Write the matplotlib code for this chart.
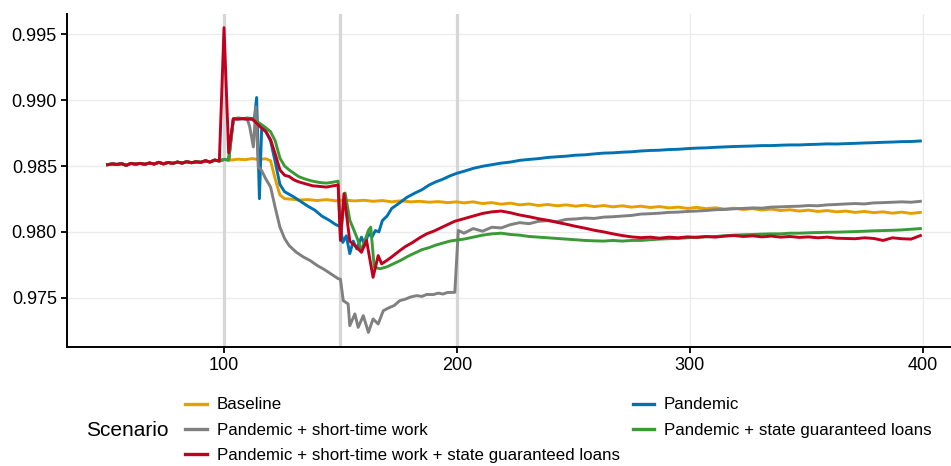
import numpy as np
import matplotlib.pyplot as plt
from matplotlib.lines import Line2D

plt.rcParams['font.family'] = ['Liberation Sans', 'DejaVu Sans']

# shared pre-shock path (all scenarios identical before period 100)
pre_x = np.arange(50, 100, 2)
pre_y = [0.98510, 0.98516, 0.98512, 0.98518, 0.98505, 0.98520, 0.98514, 0.98520,
         0.98513, 0.98523, 0.98515, 0.98528, 0.98516, 0.98527, 0.98520, 0.98530,
         0.98522, 0.98533, 0.98525, 0.98532, 0.98528, 0.98540, 0.98530, 0.98545,
         0.98538]

# common grid for the long tail
tail_x = np.arange(203, 400, 4)

# Baseline
base_hx = [100, 103, 106, 109, 112, 115, 118, 120, 122, 124, 126, 129, 132, 136,
           140, 144, 148, 152, 156, 160, 164, 168, 172, 176, 180, 184, 188, 192,
           196, 200]
base_hy = [0.98550, 0.98545, 0.98552, 0.98548, 0.98556, 0.98550, 0.98555, 0.98540,
           0.98400, 0.98280, 0.98252, 0.98248, 0.98242, 0.98245, 0.98238, 0.98245,
           0.98236, 0.98242, 0.98235, 0.98240, 0.98232, 0.98238, 0.98228, 0.98236,
           0.98228, 0.98232, 0.98225, 0.98230, 0.98222, 0.98228]
base_ty = [0.98220, 0.98228, 0.98215, 0.98222, 0.98210, 0.98218, 0.98205, 0.98212,
           0.98200, 0.98208, 0.98198, 0.98205, 0.98195, 0.98203, 0.98192, 0.98200,
           0.98190, 0.98198, 0.98188, 0.98195, 0.98185, 0.98192, 0.98182, 0.98188,
           0.98178, 0.98186, 0.98176, 0.98183, 0.98173, 0.98180, 0.98170, 0.98176,
           0.98166, 0.98173, 0.98162, 0.98168, 0.98158, 0.98165, 0.98155, 0.98162,
           0.98152, 0.98158, 0.98148, 0.98155, 0.98146, 0.98152, 0.98142, 0.98150,
           0.98140, 0.98148]

# Pandemic
pan_hx = [100, 102, 104, 106, 108, 110, 112, 113, 114, 115.2, 116.2, 118, 120, 122,
          124, 126, 128, 130, 133, 136, 139, 142, 145, 148, 150, 151, 152.5, 154,
          155.5, 157, 159, 160.5, 162, 163.5, 165, 166.5, 168, 170, 172, 175,
          178.5, 182, 185, 188, 191, 194, 197, 200]
pan_hy = [0.98550, 0.98550, 0.98855, 0.98860, 0.98858, 0.98860, 0.98855, 0.98850,
          0.99020, 0.98252, 0.98810, 0.98760, 0.98690, 0.98530, 0.98360, 0.98305,
          0.98285, 0.98265, 0.98230, 0.98195, 0.98165, 0.98120, 0.98090, 0.98055,
          0.98040, 0.97920, 0.97970, 0.97835, 0.97930, 0.97870, 0.97960, 0.97900,
          0.97990, 0.97960, 0.98010, 0.98000, 0.98086, 0.98120, 0.98178, 0.98215,
          0.98262, 0.98295, 0.98320, 0.98355, 0.98380, 0.98400, 0.98425, 0.98445]
pan_ty = [0.98460, 0.98482, 0.98498, 0.98510, 0.98522, 0.98530, 0.98543, 0.98550,
          0.98556, 0.98565, 0.98570, 0.98575, 0.98582, 0.98585, 0.98592, 0.98598,
          0.98600, 0.98605, 0.98608, 0.98614, 0.98618, 0.98620, 0.98625, 0.98627,
          0.98632, 0.98636, 0.98638, 0.98642, 0.98645, 0.98648, 0.98650, 0.98652,
          0.98655, 0.98655, 0.98658, 0.98660, 0.98660, 0.98663, 0.98665, 0.98668,
          0.98667, 0.98670, 0.98672, 0.98675, 0.98677, 0.98680, 0.98682, 0.98685,
          0.98686, 0.98690]

# Pandemic + short-time work
stw_hx = [100, 102, 104, 106, 108, 110, 111, 112.6, 113.7, 114.7, 116, 118, 120,
          121.9, 124, 126, 128, 131, 134, 137, 140, 143, 146, 149, 150, 151.2,
          153.3, 154, 156.2, 157.6, 159.8, 162, 164, 166.2, 168.4, 171.2, 173,
          175.5, 178, 180, 182.7, 185, 187, 189.8, 192, 194, 196, 199.1, 200.6]
stw_hy = [0.98550, 0.98545, 0.98855, 0.98860, 0.98860, 0.98855, 0.98800, 0.98645,
          0.98949, 0.98492, 0.98470, 0.98400, 0.98340, 0.98190, 0.98036, 0.97950,
          0.97895, 0.97846, 0.97810, 0.97782, 0.97745, 0.97715, 0.97680, 0.97645,
          0.97640, 0.97478, 0.97453, 0.97288, 0.97377, 0.97275, 0.97364, 0.97237,
          0.97339, 0.97301, 0.97402, 0.97427, 0.97440, 0.97478, 0.97490, 0.97505,
          0.97516, 0.97510, 0.97525, 0.97524, 0.97535, 0.97528, 0.97540, 0.97541,
          0.98011]
stw_ty = [0.97990, 0.98025, 0.98005, 0.98035, 0.98030, 0.98055, 0.98070, 0.98062,
          0.98080, 0.98085, 0.98078, 0.98095, 0.98098, 0.98105, 0.98102, 0.98112,
          0.98115, 0.98120, 0.98125, 0.98135, 0.98138, 0.98142, 0.98148, 0.98150,
          0.98155, 0.98158, 0.98162, 0.98168, 0.98170, 0.98175, 0.98178, 0.98182,
          0.98180, 0.98188, 0.98190, 0.98193, 0.98195, 0.98200, 0.98198, 0.98205,
          0.98208, 0.98212, 0.98215, 0.98212, 0.98220, 0.98222, 0.98225, 0.98228,
          0.98225, 0.98232]

# Pandemic + state guaranteed loans
sgl_hx = [100, 102, 104, 106, 108, 110, 112, 114, 116, 118, 120, 122, 124, 126, 128,
          130, 132, 135, 138, 141, 144, 147, 149, 150, 152, 154, 157, 159, 162, 163,
          164.5, 167, 170, 173, 176, 179, 182, 185, 188, 191, 194, 197, 200]
sgl_hy = [0.98550, 0.98545, 0.98855, 0.98865, 0.98860, 0.98865, 0.98860, 0.98840,
          0.98815, 0.98790, 0.98760, 0.98690, 0.98560, 0.98500, 0.98470, 0.98445,
          0.98420, 0.98400, 0.98385, 0.98375, 0.98370, 0.98378, 0.98385, 0.97970,
          0.98295, 0.98090, 0.97960, 0.97860, 0.98011, 0.98036, 0.97732, 0.97720,
          0.97735, 0.97760, 0.97785, 0.97815, 0.97840, 0.97865, 0.97880, 0.97900,
          0.97915, 0.97930, 0.97938]
sgl_ty = [0.97945, 0.97960, 0.97975, 0.97985, 0.97990, 0.97980, 0.97975, 0.97965,
          0.97960, 0.97955, 0.97950, 0.97945, 0.97940, 0.97935, 0.97932, 0.97930,
          0.97935, 0.97930, 0.97935, 0.97935, 0.97940, 0.97945, 0.97948, 0.97950,
          0.97955, 0.97960, 0.97962, 0.97965, 0.97970, 0.97975, 0.97978, 0.97980,
          0.97983, 0.97985, 0.97985, 0.97990, 0.97990, 0.97993, 0.97995, 0.97997,
          0.97998, 0.98000, 0.98002, 0.98005, 0.98008, 0.98010, 0.98012, 0.98015,
          0.98020, 0.98025]

# Pandemic + short-time work + state guaranteed loans
both_hx = [100, 102, 104, 106, 108, 110, 112, 114, 116, 118, 120, 122, 124, 126,
           128, 130, 132, 135, 138, 141, 144, 147, 149, 150, 151.5, 154, 157, 159,
           161.2, 164, 166.2, 167.7, 169.8, 172, 175.5, 178, 181, 184, 187, 190,
           193, 196, 199]
both_hy = [0.99550, 0.98600, 0.98860, 0.98855, 0.98860, 0.98855, 0.98858, 0.98825,
           0.98790, 0.98760, 0.98700, 0.98590, 0.98470, 0.98430, 0.98420, 0.98395,
           0.98380, 0.98365, 0.98350, 0.98345, 0.98340, 0.98350, 0.98355, 0.97935,
           0.98290, 0.97930, 0.97883, 0.97845, 0.97934, 0.97655, 0.97820, 0.97757,
           0.97782, 0.97810, 0.97858, 0.97890, 0.97920, 0.97955, 0.97985, 0.98005,
           0.98030, 0.98055, 0.98080]
both_ty = [0.98100, 0.98120, 0.98140, 0.98152, 0.98158, 0.98145, 0.98128, 0.98115,
           0.98100, 0.98088, 0.98072, 0.98058, 0.98042, 0.98028, 0.98012, 0.98000,
           0.97985, 0.97972, 0.97962, 0.97956, 0.97960, 0.97952, 0.97960, 0.97955,
           0.97962, 0.97958, 0.97965, 0.97960, 0.97968, 0.97972, 0.97965, 0.97970,
           0.97962, 0.97968, 0.97960, 0.97965, 0.97958, 0.97962, 0.97955, 0.97960,
           0.97952, 0.97950, 0.97948, 0.97955, 0.97950, 0.97935, 0.97955, 0.97948,
           0.97945, 0.97972]

scenarios = [
    ('Baseline', '#E69F00', base_hx, base_hy, base_ty),
    ('Pandemic', '#0072B2', pan_hx, pan_hy, pan_ty),
    ('Pandemic + short-time work', '#808080', stw_hx, stw_hy, stw_ty),
    ('Pandemic + state guaranteed loans', '#3A9A35', sgl_hx, sgl_hy, sgl_ty),
    ('Pandemic + short-time work + state guaranteed loans', '#C0001E', both_hx, both_hy, both_ty),
]

W, H = 951, 466
fig = plt.figure(figsize=(W / 100, H / 100), dpi=100)
ax = fig.add_axes([66.7 / W, 1 - 347 / H, (961 - 66.7) / W, (347 - 14) / H])

ax.set_axisbelow(True)
ax.grid(True, color='#EBEBEB', lw=1.0)
for v in [100, 150, 200]:
    ax.axvline(v, color='#D6D6D6', lw=2.3, zorder=1)

handles = {}
for name, col, hx, hy, ty in scenarios:
    xs = np.concatenate([pre_x, hx, tail_x])
    ys = np.concatenate([pre_y, hy, ty])
    ln, = ax.plot(xs, ys, color=col, lw=2.1, zorder=3, solid_joinstyle='round')
    handles[name] = ln

ax.set_xlim(32.45, 416.45)
ax.set_ylim(0.97126, 0.99654)
ax.set_xticks([100, 200, 300, 400])
ax.set_yticks([0.975, 0.980, 0.985, 0.990, 0.995])
ax.set_yticklabels(['0.975', '0.980', '0.985', '0.990', '0.995'])
for s in ['top', 'right']:
    ax.spines[s].set_visible(False)
for s in ['left', 'bottom']:
    ax.spines[s].set_linewidth(1.4)
    ax.spines[s].set_color('black')
ax.tick_params(length=4, width=1.3, labelsize=13, colors='black', pad=3)

order = ['Baseline', 'Pandemic + short-time work',
         'Pandemic + short-time work + state guaranteed loans',
         'Pandemic', 'Pandemic + state guaranteed loans']
leg_h = [Line2D([], [], color=handles[n].get_color(), lw=2.4) for n in order]
fig.legend(leg_h, order, loc='upper left', bbox_to_anchor=(177 / W, 1 - 389 / H),
           ncol=2, frameon=False, fontsize=12.2, handlelength=1.25,
           handletextpad=0.6, columnspacing=0.75, labelspacing=0.6, borderpad=0)
fig.text(86 / W, 1 - 431 / H, 'Scenario', fontsize=15, va='center', ha='left')

fig.savefig('out.png', dpi=100)
